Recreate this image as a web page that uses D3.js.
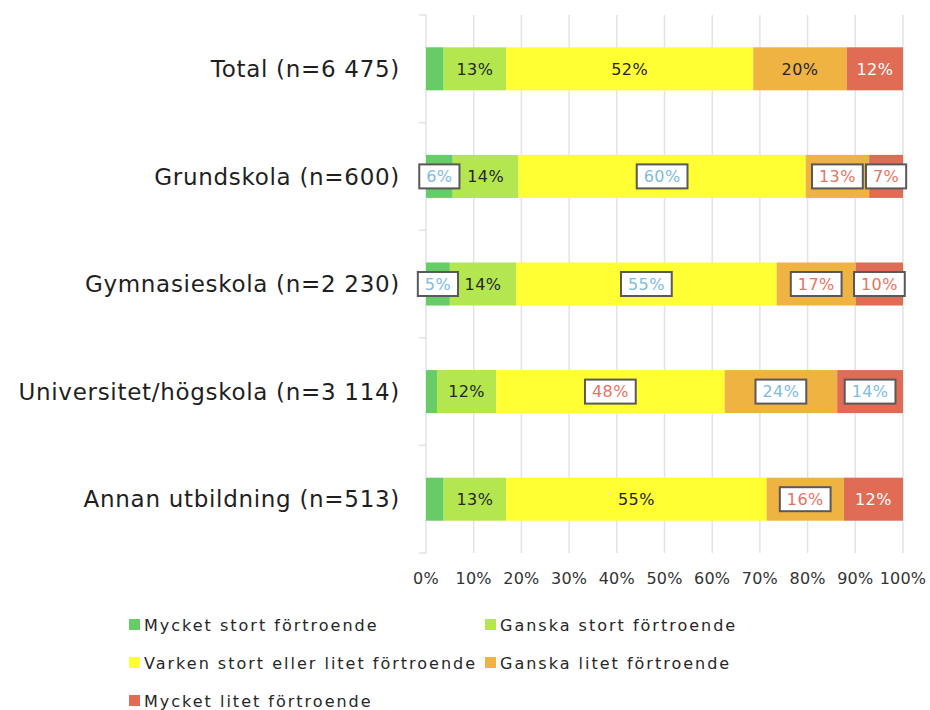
<!DOCTYPE html>
<html>
<head>
<meta charset="utf-8">
<script src="https://cdn.jsdelivr.net/npm/d3@7"></script>
<style>
  body { margin: 0; background: #fff; }
  text { font-family: "DejaVu Sans", sans-serif; }
</style>
</head>
<body>
<div id="chart"></div>
<script>
// categories (top to bottom)
const categories = [
  "Total (n=6 475)",
  "Grundskola (n=600)",
  "Gymnasieskola (n=2 230)",
  "Universitet/högskola (n=3 114)",
  "Annan utbildning (n=513)"
];

const seriesNames = [
  "Mycket stort förtroende",
  "Ganska stort förtroende",
  "Varken stort eller litet förtroende",
  "Ganska litet förtroende",
  "Mycket litet förtroende"
];

// percent per series, in category order
const mycketStort = [3.7, 5.6, 5.0, 2.3, 3.7];
const ganskaStort = [13.1, 13.8, 13.9, 12.4, 13.1];
const varken = [51.8, 60.2, 54.6, 47.9, 54.6];
const ganskaLitet = [19.6, 13.3, 16.6, 23.6, 16.2];
const mycketLitet = [11.8, 7.1, 9.9, 13.8, 12.4];

// significance vs total: 1 = higher (blue box), -1 = lower (red box), 0 = none
const flagMycketStort = [0, 1, 1, 0, 0];
const flagGanskaStort = [0, 0, 0, 0, 0];
const flagVarken = [0, 1, 1, -1, 0];
const flagGanskaLitet = [0, -1, -1, 1, -1];
const flagMycketLitet = [0, -1, -1, 1, 0];

const xTicks = [0, 10, 20, 30, 40, 50, 60, 70, 80, 90, 100];

const colors = ["#66CC66", "#B3E64F", "#FFFF33", "#EFB342", "#E06C55"];

const seriesValues = [mycketStort, ganskaStort, varken, ganskaLitet, mycketLitet];
const seriesFlags = [flagMycketStort, flagGanskaStort, flagVarken, flagGanskaLitet, flagMycketLitet];

const width = 930, height = 710;
const margin = { top: 15, right: 27, bottom: 157, left: 426 };

const svg = d3.select("#chart").append("svg")
  .attr("width", width)
  .attr("height", height);

const x = d3.scaleLinear()
  .domain([0, 100])
  .range([margin.left, width - margin.right]);

const y = d3.scaleBand()
  .domain(categories)
  .range([margin.top, height - margin.bottom])
  .paddingInner(0.6)
  .paddingOuter(0.3);

// gridlines
svg.append("g")
  .selectAll("line")
  .data(xTicks)
  .join("line")
  .attr("x1", d => x(d))
  .attr("x2", d => x(d))
  .attr("y1", margin.top)
  .attr("y2", height - margin.bottom)
  .attr("stroke", "#e3e3e3")
  .attr("stroke-width", 1.5);

// category separator ticks on the left
const bounds = d3.range(categories.length + 1).map(i => margin.top + i * (height - margin.top - margin.bottom) / categories.length);
svg.append("g")
  .selectAll("line")
  .data(bounds)
  .join("line")
  .attr("x1", x(0) - 7)
  .attr("x2", x(0))
  .attr("y1", d => d)
  .attr("y2", d => d)
  .attr("stroke", "#e3e3e3")
  .attr("stroke-width", 1.5);

// stacked data
const rows = categories.map((c, i) => {
  const r = { cat: c };
  seriesNames.forEach((s, j) => { r[s] = seriesValues[j][i]; });
  return r;
});
const stacked = d3.stack().keys(seriesNames)(rows);

const layers = svg.append("g")
  .selectAll("g")
  .data(stacked)
  .join("g")
  .attr("fill", (d, i) => colors[i]);

layers.selectAll("rect")
  .data(d => d)
  .join("rect")
  .attr("x", d => x(d[0]))
  .attr("y", d => y(d.data.cat))
  .attr("width", d => x(d[1]) - x(d[0]))
  .attr("height", y.bandwidth());

// value labels
const labelG = svg.append("g");
stacked.forEach((layer, j) => {
  layer.forEach((d, i) => {
    const v = d[1] - d[0];
    const flag = seriesFlags[j][i];
    if (flag === 0 && v < 5) return;
    const cx = (x(d[0]) + x(d[1])) / 2;
    const cy = y(d.data.cat) + y.bandwidth() / 2;
    const txt = Math.round(v) + "%";
    const g = labelG.append("g");
    const t = g.append("text")
      .attr("x", cx)
      .attr("y", cy)
      .attr("dy", "0.36em")
      .attr("text-anchor", "middle")
      .attr("font-size", 16)
      .attr("letter-spacing", 0.4)
      .text(txt);
    if (flag !== 0) {
      const w = t.node().getComputedTextLength() + 14;
      g.insert("rect", "text")
        .attr("x", cx - w / 2)
        .attr("y", cy - 12)
        .attr("width", w)
        .attr("height", 24)
        .attr("fill", "#fff")
        .attr("stroke", "#595959")
        .attr("stroke-width", 2);
      t.attr("fill", flag > 0 ? "#7DBBE3" : "#E8735F");
    } else {
      t.attr("fill", j === 4 ? "#fff" : "#262626");
    }
  });
});

// category labels
svg.append("g")
  .selectAll("text")
  .data(categories)
  .join("text")
  .attr("x", 400)
  .attr("y", d => y(d) + y.bandwidth() / 2)
  .attr("dy", "0.36em")
  .attr("text-anchor", "end")
  .attr("font-size", 23)
  .attr("letter-spacing", 0.7)
  .attr("fill", "#1f1f1f")
  .text(d => d);

// x axis labels
svg.append("g")
  .selectAll("text")
  .data(xTicks)
  .join("text")
  .attr("x", d => x(d))
  .attr("y", 578)
  .attr("dy", "0.36em")
  .attr("text-anchor", "middle")
  .attr("font-size", 16)
  .attr("letter-spacing", 0.2)
  .attr("fill", "#333")
  .text(d => d + "%");

// legend
const legendPos = [[129, 625], [485, 625], [129, 663], [485, 663], [129, 701]];
const legend = svg.append("g");
seriesNames.forEach((s, i) => {
  const [lx, ly] = legendPos[i];
  legend.append("rect")
    .attr("x", lx)
    .attr("y", ly - 6)
    .attr("width", 11)
    .attr("height", 11)
    .attr("fill", colors[i]);
  legend.append("text")
    .attr("x", lx + 15)
    .attr("y", ly)
    .attr("dy", "0.36em")
    .attr("font-size", 16)
    .attr("letter-spacing", 2)
    .attr("fill", "#262626")
    .text(s);
});
</script>
</body>
</html>
